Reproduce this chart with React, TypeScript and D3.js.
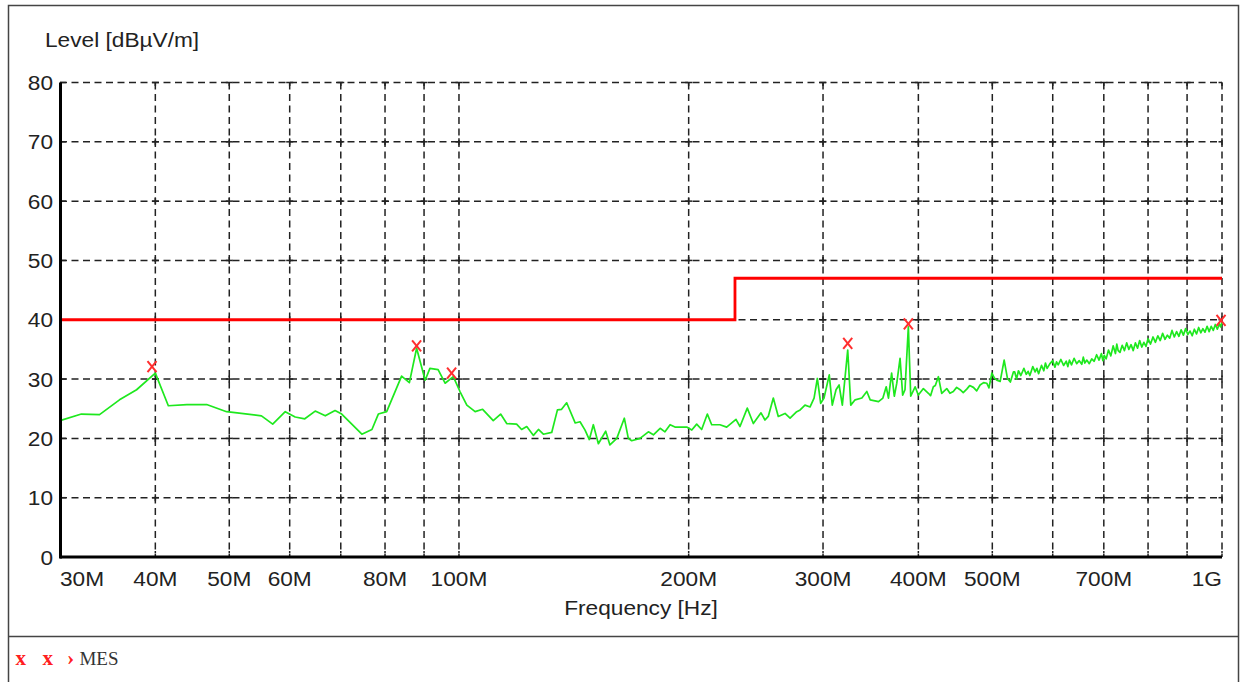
import React from "react";
import * as d3 from "d3";

// Measured level trace: frequency in MHz, level in dBµV/m
const traceFreqMHz: number[] = [
  30, 32.0, 33.8, 35.9, 37.8, 40.0, 41.6, 44.0, 46.7, 49.6, 55.1, 57.0, 59.2, 61.0, 62.8, 64.8, 66.8, 68.8, 70.2,
  74.6, 76.9, 78.4, 80.4, 84.1, 86.1, 88.0, 90.3, 91.6, 93.9, 95.9, 98.3, 100.3, 102.4, 105.0, 107.4, 110.9,
  113.4, 115.5, 119.0, 120.8, 122.7, 125.2, 127.1, 129.0, 132.3, 134.6, 136.3, 138.4, 142.0, 144.1, 146.3,
  148.2, 150.0, 152.3, 155.7, 157.7, 161.0, 164.7, 166.7, 168.4, 172.7, 177.1, 179.8, 183.5, 186.2, 189.1,
  191.9, 198.8, 201.9, 204.9, 208.0, 211.6, 214.4, 219.8, 224.3, 230.7, 233.5, 238.7, 243.1, 248.8, 251.8,
  254.3, 258.2, 262.1, 267.5, 271.6, 277.1, 280.0, 284.1, 288.5, 292.0, 294.9, 297.9, 300.9, 305.7, 308.5,
  312.0, 314.9, 318.0, 323.2, 326.2, 330.5, 337.3, 342.4, 345.9, 354.7, 359.4, 363.0, 365.5, 369.0, 372.0,
  374.8, 378.5, 381.5, 384.2, 388.1, 390.9, 396.1, 400.0, 406.1, 412.3, 415.0, 418.5, 421.0, 424.9, 429.2,
  435.8, 440.0, 444.5, 449.0, 453.7, 458.0, 462.9, 467.0, 472.3, 477.0, 481.9, 487.0, 491.7, 495.0, 499.3,
  503.0, 506.8, 512.0, 518.2, 523.4, 528.0, 532.9,
  535, 538, 541, 545, 550, 554, 557, 560, 565, 569, 572, 575, 580, 584, 587, 590, 595, 600, 604, 607, 610,
  615, 620, 625, 628, 631, 635, 640, 645, 650, 655, 658, 661, 665, 670, 675, 680, 685, 690, 695, 698, 701,
  705, 710, 715, 720, 725, 728, 731, 735, 740, 745, 750, 755, 760, 765, 770, 775, 780, 785, 790, 795, 800,
  806, 812, 818, 824, 830, 836, 842, 848, 854, 860, 866, 872, 878, 884, 890, 896, 902, 908, 914, 920, 926,
  932, 938, 944, 950, 956, 962, 968, 974, 980, 986, 992, 996, 1000,
];
const traceLevel: number[] = [
  23.0, 24.1, 24.0, 26.5, 28.2, 31.0, 25.5, 25.7, 25.7, 24.5, 23.8, 22.4, 24.5, 23.6, 23.3, 24.6, 23.8, 24.7, 24.1,
  20.7, 21.5, 24.1, 24.5, 30.5, 29.4, 35.2, 29.8, 31.8, 31.6, 29.3, 30.4, 27.9, 25.6, 24.5, 24.9, 23.0,
  24.1, 22.5, 22.4, 21.5, 22.0, 20.5, 21.5, 20.7, 21.0, 24.8, 24.9, 26.0, 22.6, 22.8, 21.4,
  19.8, 22.3, 19.1, 21.2, 18.9, 20.0, 23.4, 20.0, 19.6, 20.0, 21.1, 20.6, 21.7, 21.1, 22.3,
  21.9, 21.9, 21.4, 22.4, 21.5, 24.1, 22.3, 22.3, 21.9, 23.2, 22.0, 25.1, 22.5, 24.3, 23.1,
  23.7, 26.8, 23.7, 24.2, 23.4, 24.5, 24.8, 25.6, 25.3, 26.8, 30.1, 25.9, 26.8, 30.7, 25.6,
  28.2, 29.0, 25.6, 34.9, 25.6, 26.5, 26.8, 27.9, 26.5, 26.2, 26.8, 28.7, 26.8, 31.0, 27.1,
  29.3, 33.5, 27.3, 28.2, 38.8, 27.1, 28.7, 27.3, 28.4, 27.6, 27.2, 28.7, 28.9, 30.4, 27.6,
  28.4, 27.6, 27.9, 28.6, 28.2, 27.7, 28.3, 28.9, 28.6, 28.0, 29.0, 29.4, 29.3, 28.5, 31.0,
  30.2, 29.8, 29.6, 33.2, 30.1, 29.5, 31.2,
  31.2, 30.0, 31.4, 30.6, 31.8, 30.8, 31.3, 30.6, 32.1, 31.2, 31.8, 30.9, 32.3, 31.4, 32.7, 31.8, 32.6, 33.1, 32.0, 32.9, 32.4,
  33.3, 32.3, 33.0, 32.1, 33.2, 32.4, 33.5, 32.6, 33.1, 32.5, 33.7, 32.7, 33.2, 32.6, 33.4, 33.0, 34.1, 33.2, 34.3, 33.1, 34.0,
  33.4, 34.9, 33.9, 35.6, 34.3, 35.9, 34.8, 34.5, 35.7, 34.8, 36.1, 35.0, 35.8, 34.8, 36.1, 35.2, 36.5, 35.4, 36.2, 35.5, 36.8,
  35.9, 37.1, 36.2, 37.3, 36.5, 37.7, 36.7, 37.4, 36.9, 38.2, 37.1, 38.0, 37.2, 38.3, 37.4, 38.5, 37.5, 38.1, 37.3, 38.4, 37.6,
  38.7, 37.8, 38.5, 37.9, 38.9, 38.0, 38.9, 38.2, 39.2, 38.4, 39.3, 38.8, 39.6,
];

// Limit line (MHz, dBµV/m)
const limitFreqMHz: number[] = [30, 230, 230, 1000];
const limitLevel: number[] = [40, 40, 47, 47];

// Final measurement markers "MES"
const markerFreqMHz: number[] = [39.6, 88.0, 97.8, 323.2, 388.1, 997];
const markerLevel: number[] = [32.1, 35.6, 31.0, 36.0, 39.3, 39.9];

// Axes
const gridFreqMHz: number[] = [40, 50, 60, 70, 80, 90, 100, 200, 300, 400, 500, 600, 700, 800, 900, 1000];
const xTickFreqMHz: number[] = [30, 40, 50, 60, 80, 100, 200, 300, 400, 500, 700, 1000];
const xTickLabels: string[] = ["30M", "40M", "50M", "60M", "80M", "100M", "200M", "300M", "400M", "500M", "700M", "1G"];
const yTicks: number[] = [0, 10, 20, 30, 40, 50, 60, 70, 80];

const W = 1240;
const H = 682;
const PL = 60;
const PR = 1222;
const PT = 82.5;
const PB = 557;
const SX = 1.08;

const font = "'Liberation Sans', Arial, sans-serif";

function T(props: { x: number; y: number; anchor?: string; children: React.ReactNode; dy?: string }) {
  return (
    <g transform={`translate(${props.x},${props.y}) scale(${SX},1)`}>
      <text
        x={0}
        y={0}
        dy={props.dy}
        textAnchor={props.anchor || "start"}
        fontFamily={font}
        fontSize={21}
        fill="#222"
      >
        {props.children}
      </text>
    </g>
  );
}

export default function App() {
  const x = d3.scaleLog().domain([30, 1000]).range([PL, PR]);
  const y = d3.scaleLinear().domain([0, 80]).range([PB, PT]);

  const trace = traceFreqMHz.map((f, i) => [f, traceLevel[i]] as [number, number]);
  const limit = limitFreqMHz.map((f, i) => [f, limitLevel[i]] as [number, number]);
  const line = d3
    .line<[number, number]>()
    .x((d) => x(d[0]))
    .y((d) => y(d[1]));

  const gridColor = "#222";
  const dash = "7,4.5";
  const gw = 1.5;

  return (
    <svg
      width={W}
      height={H}
      style={{ position: "absolute", left: 0, top: 0, display: "block", background: "#fff" }}
    >
      <rect x={0} y={0} width={W} height={H} fill="#fff" />
      {/* outer frame */}
      <rect x={8.5} y={5.5} width={1230} height={720} fill="none" stroke="#444" strokeWidth={1.5} />
      <line x1={8} x2={1239} y1={636.5} y2={636.5} stroke="#444" strokeWidth={1.5} />

      {/* horizontal gridlines */}
      {yTicks
        .filter((v) => v > 0)
        .map((v) => (
          <line
            key={"h" + v}
            x1={PL}
            x2={PR}
            y1={y(v)}
            y2={y(v)}
            stroke={gridColor}
            strokeWidth={gw}
            strokeDasharray={dash}
          />
        ))}
      {/* vertical gridlines */}
      {gridFreqMHz.map((f) => (
        <line
          key={"v" + f}
          x1={x(f)}
          x2={x(f)}
          y1={PT}
          y2={PB}
          stroke={gridColor}
          strokeWidth={gw}
          strokeDasharray={dash}
        />
      ))}
      {/* tick crosses at intersections */}
      {gridFreqMHz.map((f) =>
        yTicks.map((v) => {
          const cx = x(f);
          const cy = y(v);
          const up = v === 0 ? 0 : 3.5;
          const down = v === 80 ? 0 : 3.5;
          return (
            <g key={"c" + f + "_" + v} stroke={gridColor} strokeWidth={gw}>
              <line x1={cx} x2={cx} y1={cy - down} y2={cy + (v === 0 ? -6 : up)} />
              <line x1={cx - 3.5} x2={Math.min(cx + 3.5, PR)} y1={cy} y2={cy} />
            </g>
          );
        })
      )}
      {/* left axis ticks */}
      {yTicks.map((v) => (
        <line key={"lt" + v} x1={PL} x2={PL + 6} y1={y(v)} y2={y(v)} stroke={gridColor} strokeWidth={gw} />
      ))}

      {/* limit line */}
      <path d={line(limit) || ""} fill="none" stroke="#ff0000" strokeWidth={2.8} />

      {/* trace */}
      <path d={line(trace) || ""} fill="none" stroke="#1ee81e" strokeWidth={1.7} strokeLinejoin="round" />

      {/* markers */}
      {markerFreqMHz.map((f, i) => {
        const cx = x(f);
        const cy = y(markerLevel[i]);
        return (
          <g key={"m" + i} stroke="#ff2e2e" strokeWidth={2}>
            <line x1={cx - 4.5} x2={cx + 4.5} y1={cy - 5.5} y2={cy + 5.5} />
            <line x1={cx + 4.5} x2={cx - 4.5} y1={cy - 5.5} y2={cy + 5.5} />
          </g>
        );
      })}

      {/* axes */}
      <line x1={PL + 0.5} x2={PL + 0.5} y1={PT} y2={PB + 1.5} stroke="#000" strokeWidth={3} />
      <line x1={PL} x2={PR} y1={PB} y2={PB} stroke="#000" strokeWidth={3} />

      {/* y tick labels */}
      {yTicks.map((v) => (
        <T key={"yl" + v} x={53} y={y(v)} dy="0.36em" anchor="end">
          {v}
        </T>
      ))}
      {/* x tick labels */}
      {xTickFreqMHz.map((f, i) => (
        <T
          key={"xl" + f}
          x={x(f)}
          y={586}
          anchor={i === 0 ? "start" : i === xTickFreqMHz.length - 1 ? "end" : "middle"}
        >
          {xTickLabels[i]}
        </T>
      ))}

      {/* axis titles */}
      <T x={45} y={46.5}>
        Level [dBµV/m]
      </T>
      <T x={641} y={615} anchor="middle">
        Frequency [Hz]
      </T>

      {/* legend */}
      <g fontFamily="'Liberation Serif', 'Times New Roman', serif">
        <text x={15.5} y={664.5} fontSize={21} fontWeight="bold" fill="#ff2020">x</text>
        <text x={42.5} y={664.5} fontSize={21} fontWeight="bold" fill="#ff2020">x</text>
        <text x={67} y={664.5} fontSize={22} fontWeight="bold" fill="#ff2020">›</text>
        <text x={79.5} y={665} fontSize={18} fill="#333" textLength={39} lengthAdjust="spacingAndGlyphs">
          MES
        </text>
      </g>
    </svg>
  );
}
